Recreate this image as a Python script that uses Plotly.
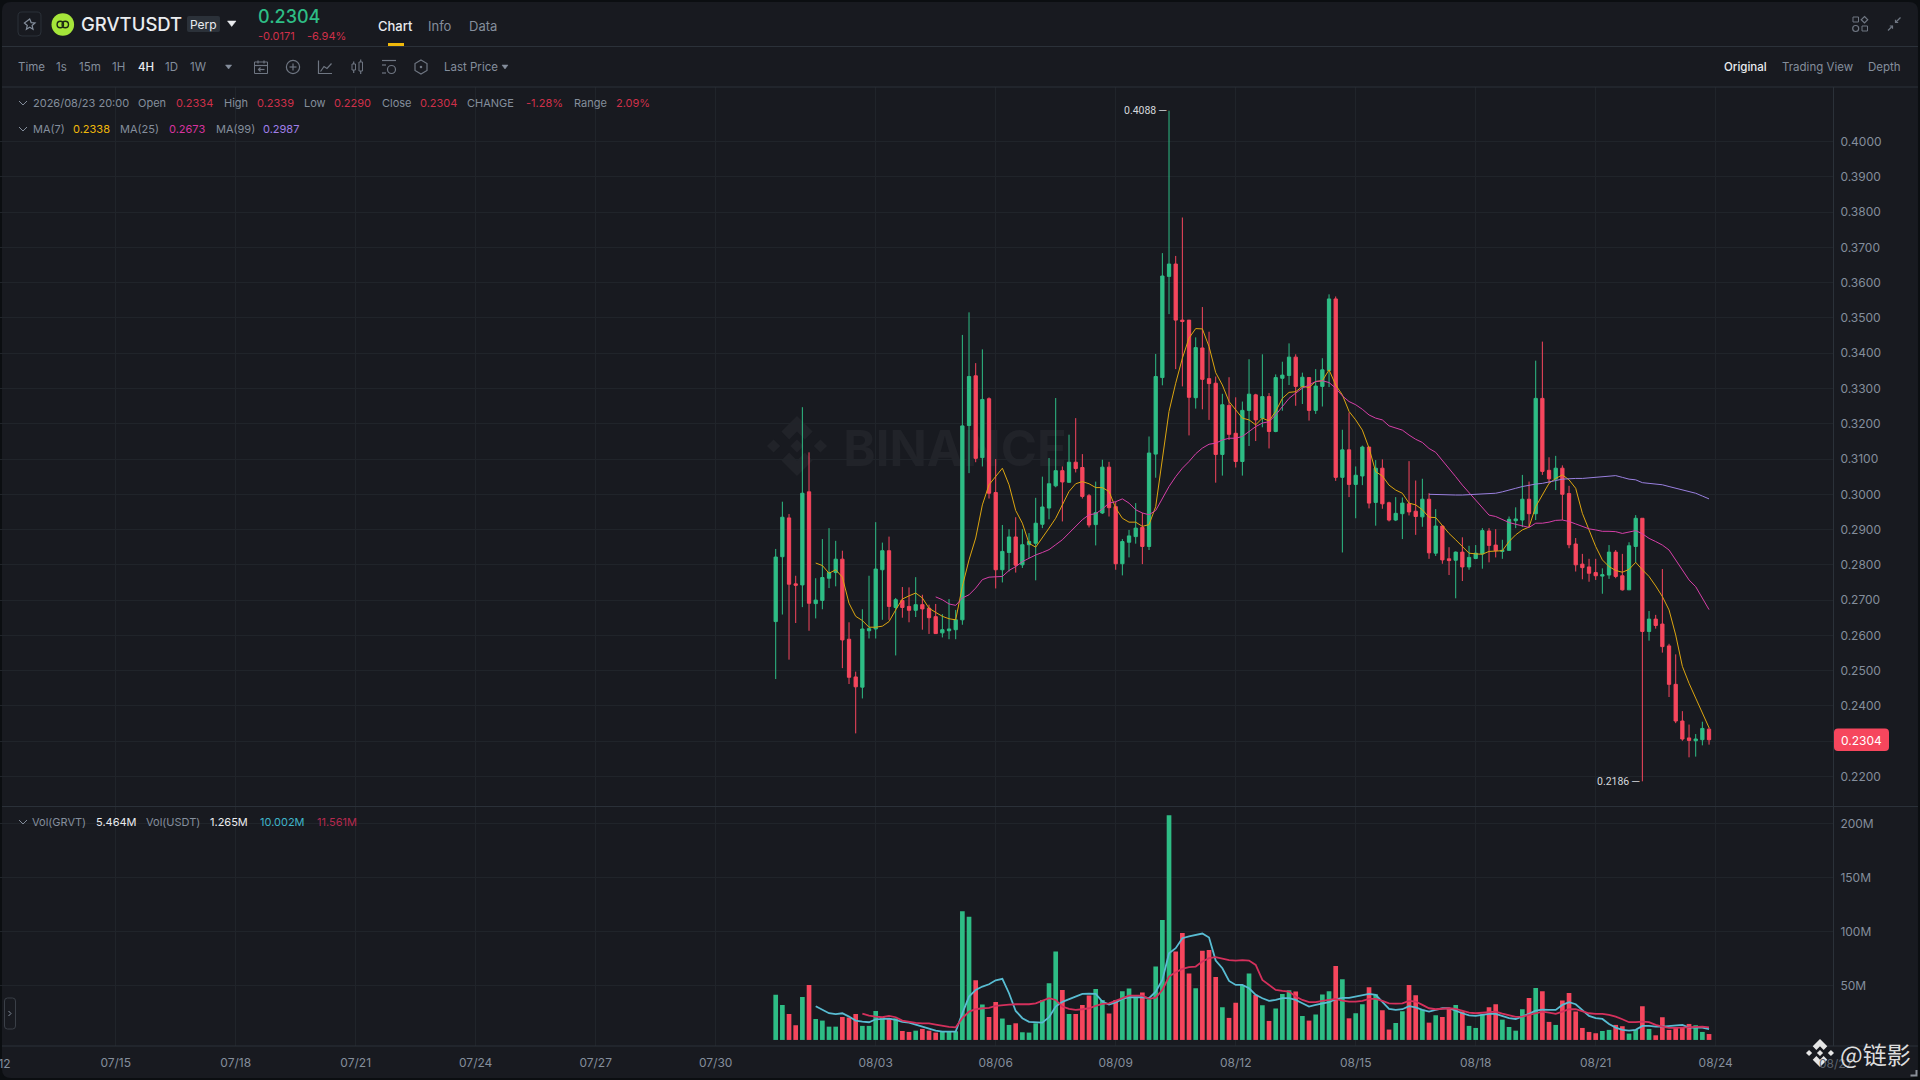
# GRVTUSDT 4H perp chart, candles + MA lines + volume pane

import pandas as pd
import plotly.graph_objects as go
from plotly.subplots import make_subplots

# Candles (4h bars from 07/31 12:00)
opens = [.2639,.2823,.2933,.2746,.2743,.3007,.2690,.2699,.2762,.2778,.2816,.2589,.2482,.2453,.2613,.2618,.2786,.2840,.2679,.2699,
         .2682,.2671,.2687,.2677,.2653,.2607,.2613,.2616,.2644,.3195,.3336,.3104,.3271,.3005,.2786,.2835,.2879,.2800,.2857,.2861,
         .2915,.2961,.3024,.3067,.3034,.3091,.3076,.2996,.2914,.2947,.3077,.2965,.2803,.2864,.2880,.2906,.2852,.3114,.3331,.3618,
         .3653,.3494,.3494,.3274,.3415,.3328,.3315,.3113,.3252,.3173,.3093,.3238,.3282,.3216,.3277,.3178,.3329,.3337,.3389,.3306,
         .3331,.3238,.3306,.3351,.3554,.3048,.3126,.3028,.3052,.3134,.2977,.3074,.2976,.2927,.2945,.2973,.2952,.2936,.2986,.2833,
         .2910,.2817,.2813,.2836,.2794,.2818,.2831,.2896,.2856,.2838,.2841,.2925,.2927,.2986,.2945,.3272,.3068,.3043,.3074,.3002,
         .2859,.2802,.2794,.2778,.2768,.2771,.2836,.2769,.2729,.2852,.2932,.2611,.2646,.2632,.2570,.2461,.2357,.2309,.2301,.2304,.2334]
highs = [.2845,.2979,.2944,.2769,.3247,.3119,.2762,.2873,.2904,.2868,.2840,.2637,.2497,.2674,.2769,.2921,.2863,.2880,.2706,.2737,
         .2736,.2765,.2715,.2687,.2689,.2660,.2703,.2672,.3452,.3516,.3372,.3411,.3275,.3100,.2913,.2901,.2935,.2901,.2890,.2990,
         .3050,.3103,.3273,.3079,.3169,.3216,.3114,.3001,.3036,.3098,.3092,.2979,.2873,.2899,.2975,.2947,.3164,.3398,.3684,.4088,
         .3676,.3785,.3494,.3445,.3531,.3461,.3334,.3285,.3332,.3275,.3263,.3383,.3285,.3397,.3287,.3340,.3376,.3428,.3397,.3345,
         .3331,.3355,.3386,.3567,.3561,.3183,.3232,.3079,.3138,.3134,.3097,.3099,.2979,.2992,.2991,.3094,.3039,.3044,.3003,.2958,
         .2910,.2850,.2838,.2878,.2854,.2856,.2904,.2904,.2901,.2871,.2937,.2963,.3055,.3036,.3379,.3433,.3105,.3109,.3082,.3024,
         .2876,.2831,.2817,.2817,.2790,.2856,.2842,.2831,.2864,.2941,.2932,.2669,.2658,.2788,.2576,.2546,.2385,.2347,.2320,.2355,.2339]
lows = [.2476,.2659,.2531,.2635,.2680,.2613,.2648,.2674,.2734,.2739,.2507,.2462,.2322,.2421,.2591,.2591,.2644,.2644,.2543,.2650,
        .2637,.2652,.2616,.2604,.2604,.2594,.2589,.2589,.2630,.3060,.3091,.3079,.2988,.2733,.2750,.2781,.2778,.2791,.2819,.2756,
        .2904,.2929,.3020,.2923,.3032,.3062,.2988,.2906,.2855,.2944,.2937,.2786,.2770,.2821,.2860,.2802,.2842,.3047,.3309,.3511,
        .3355,.3306,.3167,.3243,.3241,.3211,.3033,.3053,.3154,.3076,.3053,.3137,.3151,.3190,.3130,.3176,.3237,.3310,.3251,.3256,
        .3209,.3228,.3249,.3304,.3038,.2835,.2992,.2932,.3026,.2960,.2911,.2959,.2923,.2924,.2873,.2940,.2885,.2908,.2817,.2825,
        .2803,.2771,.2705,.2754,.2786,.2816,.2789,.2807,.2821,.2817,.2841,.2904,.2907,.2907,.2927,.3055,.3031,.3012,.2927,.2847,
        .2781,.2759,.2752,.2757,.2718,.2760,.2762,.2727,.2729,.2806,.2186,.2585,.2619,.2551,.2425,.2351,.2301,.2254,.2256,.2288,.2290]
closes = [.2822,.2935,.2745,.2742,.3003,.2691,.2700,.2764,.2778,.2816,.2587,.2481,.2454,.2618,.2619,.2788,.2840,.2682,.2701,.2679,
          .2671,.2687,.2675,.2650,.2605,.2616,.2618,.2644,.3194,.3334,.3102,.3269,.3003,.2786,.2838,.2879,.2799,.2857,.2866,.2918,
          .2964,.3030,.3067,.3035,.3091,.3073,.2994,.2913,.2948,.3077,.2962,.2803,.2866,.2882,.2904,.2852,.3117,.3334,.3619,.3653,
          .3494,.3490,.3275,.3416,.3326,.3314,.3113,.3254,.3170,.3093,.3238,.3284,.3211,.3277,.3178,.3331,.3338,.3389,.3306,.3332,
          .3238,.3307,.3353,.3554,.3048,.3126,.3028,.3054,.3134,.2975,.3074,.2973,.2927,.2946,.2975,.2950,.2937,.2986,.2834,.2910,
          .2814,.2812,.2836,.2794,.2821,.2833,.2897,.2855,.2840,.2841,.2929,.2930,.2986,.2945,.3272,.3065,.3044,.3074,.3000,.2857,
          .2800,.2792,.2776,.2769,.2772,.2836,.2767,.2729,.2854,.2932,.2611,.2646,.2628,.2568,.2461,.2357,.2306,.2302,.2306,.2336,.2304]

# Price MAs: the first value of each one sits on bar 6 / 24 / 98
ma7 = [.2805,.2798,.2776,.2786,.2765,.2691,.2654,.2642,.2623,.2623,.2626,.2639,.2672,.2703,.2712,.2720,.2706,.2677,.2665,.2654,
       .2647,.2644,.2739,.2814,.2876,.2970,.3027,.3050,.3074,.3027,.2954,.2918,.2861,.2850,.2876,.2904,.2932,.2970,.3008,.3030,
       .3036,.3030,.3019,.3019,.3008,.2961,.2932,.2921,.2921,.2909,.2914,.2965,.3107,.3235,.3315,.3386,.3443,.3470,.3469,.3419,
       .3345,.3310,.3263,.3239,.3216,.3211,.3197,.3216,.3208,.3235,.3272,.3289,.3291,.3306,.3303,.3320,.3322,.3353,.3310,.3282,
       .3235,.3211,.3182,.3131,.3064,.3052,.3026,.3012,.3003,.2975,.2970,.2956,.2935,.2934,.2910,.2889,.2871,.2852,.2833,.2831,
       .2830,.2838,.2840,.2840,.2866,.2885,.2899,.2907,.2965,.2998,.3031,.3045,.3055,.3041,.3017,.2946,.2899,.2852,.2814,.2795,
       .2784,.2779,.2787,.2807,.2786,.2767,.2740,.2710,.2672,.2601,.2512,.2464,.2422,.2379,.2338]
ma25 = [.2709,.2701,.2689,.2685,.2706,.2715,.2734,.2758,.2765,.2766,.2767,.2784,.2795,.2809,.2819,.2828,.2835,.2843,.2857,.2871,
        .2890,.2909,.2928,.2942,.2945,.2958,.2975,.2979,.2987,.2975,.2956,.2947,.2942,.2954,.2989,.3022,.3050,.3074,.3093,.3115,
        .3131,.3142,.3145,.3154,.3159,.3159,.3164,.3178,.3192,.3202,.3206,.3225,.3249,.3272,.3287,.3301,.3310,.3320,.3322,.3317,
        .3301,.3279,.3263,.3254,.3241,.3225,.3216,.3211,.3194,.3187,.3182,.3168,.3156,.3147,.3130,.3119,.3097,.3074,.3050,.3026,
        .3005,.2984,.2965,.2941,.2937,.2928,.2920,.2915,.2910,.2906,.2918,.2918,.2921,.2926,.2927,.2923,.2916,.2908,.2902,.2899,
        .2895,.2895,.2894,.2889,.2892,.2897,.2888,.2875,.2866,.2856,.2842,.2814,.2786,.2757,.2738,.2705,.2673]
ma99 = [.3000,.2999,.2999,.2999,.2998,.2998,.2999,.3001,.3002,.3003,.3003,.3007,.3011,.3017,.3022,.3026,.3029,.3031,.3034,.3039,
        .3043,.3045,.3045,.3045,.3047,.3048,.3050,.3052,.3053,.3048,.3043,.3041,.3033,.3031,.3029,.3027,.3022,.3017,.3012,.3007,
        .3003,.2995,.2987]

# Volume in millions, and its two averages (first value on bar 6 / 13)
volumes = [41.7,32.4,24.1,13.6,39.8,50.9,19.4,17.9,12.3,12.3,21.3,20.7,24.1,13.0,13.0,26.8,21.0,20.0,20.0,8.3,
           7.4,8.6,10.2,8.6,6.8,7.4,7.4,8.0,119.0,113.9,55.2,32.7,21.3,35.2,19.8,13.9,15.4,7.1,6.8,15.4,
           37.0,52.5,81.8,46.3,24.1,24.1,32.4,41.0,47.2,37.0,24.4,37.0,45.0,47.5,40.0,43.8,37.6,67.9,111.0,207.7,
           81.8,98.8,61.4,47.8,82.4,83.3,58.3,30.2,20.4,34.3,50.9,61.4,41.7,32.1,17.6,29.0,42.6,46.0,44.7,22.2,
           17.9,23.5,42.0,45.0,68.5,56.2,20.0,24.7,33.0,48.8,42.3,27.5,9.6,15.7,26.5,50.9,41.4,28.0,16.0,22.8,
           21.3,29.0,32.4,26.2,13.0,11.1,23.8,30.2,33.0,18.8,12.0,8.6,28.4,38.9,48.1,45.0,16.7,13.9,36.4,43.5,
           26.2,11.1,7.4,6.2,8.3,9.3,13.9,12.7,5.9,9.3,31.2,10.2,4.3,21.0,9.3,11.1,11.7,14.8,13.6,7.4,5.464]
vol_ma_a = [31.2,27.8,24.7,23.8,24.7,21.6,17.9,17.0,16.4,19.1,19.8,19.8,18.5,16.7,16.0,14.5,12.3,10.5,8.6,7.7,
            7.7,7.7,24.7,40.1,46.3,49.4,51.5,55.2,56.5,43.2,26.8,20.1,16.7,16.0,16.0,21.0,30.9,35.2,37.6,40.1,
            42.6,42.9,42.6,35.5,32.7,34.6,38.0,39.5,39.5,39.5,38.6,44.7,55.5,80.2,84.9,94.1,95.7,96.9,98.4,94.7,
            73.4,66.3,54.6,50.9,50.9,47.8,41.7,
            38.6,36.1,37.0,38.6,38.6,37.0,33.9,30.9,32.4,33.9,34.9,37.6,38.9,38.9,40.1,41.7,42.6,41.7,35.5,28.7,
            27.8,28.4,31.2,30.2,27.8,26.2,27.8,29.3,29.3,26.8,24.7,22.8,22.2,23.1,24.1,24.1,22.2,20.1,19.4,21.6,
            24.1,27.2,28.1,27.8,27.8,32.4,34.9,33.0,27.8,22.2,20.1,19.4,14.8,11.4,9.3,8.6,9.3,13.0,13.0,12.3,
            12.3,13.0,13.6,13.9,11.4,11.4,11.4,10.002]
vol_ma_b = [24.4,22.5,21.6,21.0,22.2,21.0,17.9,16.7,15.7,15.4,15.4,14.2,13.0,12.0,11.7,20.1,26.2,28.4,29.3,29.6,
            31.5,32.4,32.7,33.0,33.0,33.0,33.9,36.4,38.6,37.0,30.9,28.7,27.8,28.4,29.3,31.5,33.3,33.9,36.1,38.6,
            41.0,41.0,41.0,38.0,39.2,46.3,58.6,62.6,65.7,67.3,67.9,72.5,75.6,76.5,75.3,73.8,73.4,73.8,73.4,69.4,
            55.5,50.9,46.3,45.4,44.7,40.1,37.0,34.9,34.9,36.1,37.0,38.0,36.4,35.5,35.5,36.1,38.0,38.0,36.1,33.9,
            33.6,33.9,36.1,35.5,32.4,29.3,28.4,29.0,29.3,28.7,27.2,25.3,24.7,25.3,25.9,26.2,24.4,22.5,21.3,21.6,
            23.1,25.3,26.2,25.3,24.1,26.2,28.4,28.4,26.8,24.7,24.1,24.1,23.1,21.6,19.1,16.4,16.4,17.0,16.4,13.9,
            12.3,11.1,11.1,11.4,11.7,12.0,12.3,11.561]

tick_dates = ["2026-07-15", "2026-07-18", "2026-07-21", "2026-07-24", "2026-07-27", "2026-07-30", "2026-08-03",
              "2026-08-06", "2026-08-09", "2026-08-12", "2026-08-15", "2026-08-18", "2026-08-21", "2026-08-24"]
tick_labels = ["07/15", "07/18", "07/21", "07/24", "07/27", "07/30", "08/03",
               "08/06", "08/09", "08/12", "08/15", "08/18", "08/21", "08/24"]
price_ticks = [.22, .23, .24, .25, .26, .27, .28, .29, .30, .31, .32, .33, .34, .35, .36, .37, .38, .39, .40]
vol_ticks = [50, 100, 150, 200]
vol_tick_labels = ["50M", "100M", "150M", "200M"]

for series in (highs, lows, closes, volumes):
    assert len(series) == len(opens), len(series)
assert len(ma7) == 135 and len(ma25) == 117 and len(ma99) == 43, (len(ma7), len(ma25), len(ma99))
assert len(vol_ma_a) == 135 and len(vol_ma_b) == 128, (len(vol_ma_a), len(vol_ma_b))

dates = pd.date_range("2026-07-31 12:00", periods=len(opens), freq="4h")

UP = "#2ebd85"
DOWN = "#f6465d"
DOWN_DIM = "#cf304a"
GREY = "#848e9c"
ICON = "#6f7682"
GRID = "#20242a"
LINE = "#2b3139"
W, H = 1920, 1080

fig = make_subplots(rows=2, cols=1, shared_xaxes=True, vertical_spacing=0)

fig.add_trace(go.Candlestick(
    x=dates, open=opens, high=highs, low=lows, close=closes,
    increasing=dict(line=dict(color=UP, width=1), fillcolor=UP),
    decreasing=dict(line=dict(color=DOWN, width=1), fillcolor=DOWN),
    whiskerwidth=0,
), row=1, col=1)
fig.add_trace(go.Scatter(x=dates[6:], y=ma7, mode="lines", line=dict(color="#dca510", width=1)), row=1, col=1)
fig.add_trace(go.Scatter(x=dates[24:], y=ma25, mode="lines", line=dict(color="#d63fa8", width=1)), row=1, col=1)
fig.add_trace(go.Scatter(x=dates[98:], y=ma99, mode="lines", line=dict(color="#9a80e0", width=1)), row=1, col=1)

bar_colors = [UP if c >= o else DOWN for o, c in zip(opens, closes)]
fig.add_trace(go.Bar(x=dates, y=volumes, marker=dict(color=bar_colors, line_width=0)), row=2, col=1)
fig.add_trace(go.Scatter(x=dates[6:], y=vol_ma_a, mode="lines", line=dict(color="#58bcd2", width=1.8)), row=2, col=1)
fig.add_trace(go.Scatter(x=dates[13:], y=vol_ma_b, mode="lines", line=dict(color="#d4305c", width=1.8)), row=2, col=1)


# everything outside the plot is placed in screen pixels
def px(x):
    return x / W


def py(y):
    return 1 - y / H


annotations = []
shapes = []


def label(x, y, text, color=GREY, size=12, anchor="left", weight=None):
    # left anchored annotations land about 2px too far right
    x_pos = x - 2 if anchor == "left" else x
    annotations.append(dict(xref="paper", yref="paper", x=px(x_pos), y=py(y), text=text, showarrow=False,
                            xanchor=anchor, yanchor="middle", borderpad=0,
                            font=dict(family="Inter", size=size, color=color, weight=weight)))


def poly(points, color=ICON, width=1.2, fill=None, close=False, layer="above"):
    d = "M" + " L".join(f"{px(x):.6f},{py(y):.6f}" for x, y in points) + (" Z" if close else "")
    shapes.append(dict(type="path", xref="paper", yref="paper", path=d, layer=layer,
                       line=dict(color=color, width=width), fillcolor=fill or "rgba(0,0,0,0)"))


def rect(x0, y0, x1, y1, color=None, fill=None, radius=0, width=1, layer="above"):
    r = radius
    rx, ry = r / W, r / H
    a, b, c, d = px(x0), px(x1), py(y0), py(y1)
    path = (f"M{a + rx:.6f},{c:.6f} L{b - rx:.6f},{c:.6f} Q{b:.6f},{c:.6f} {b:.6f},{c - ry:.6f} "
            f"L{b:.6f},{d + ry:.6f} Q{b:.6f},{d:.6f} {b - rx:.6f},{d:.6f} "
            f"L{a + rx:.6f},{d:.6f} Q{a:.6f},{d:.6f} {a:.6f},{d + ry:.6f} "
            f"L{a:.6f},{c - ry:.6f} Q{a:.6f},{c:.6f} {a + rx:.6f},{c:.6f} Z")
    shapes.append(dict(type="path", xref="paper", yref="paper", path=path, layer=layer,
                       line=dict(color=color or "rgba(0,0,0,0)", width=width if color else 0),
                       fillcolor=fill or "rgba(0,0,0,0)"))


def circle(cx, cy, r, color=ICON, fill=None, width=1.2, layer="above"):
    shapes.append(dict(type="circle", xref="paper", yref="paper", layer=layer,
                       x0=px(cx - r), x1=px(cx + r), y0=py(cy + r), y1=py(cy - r),
                       line=dict(color=color or "rgba(0,0,0,0)", width=width if color else 0),
                       fillcolor=fill or "rgba(0,0,0,0)"))


def binance_logo(cx, cy, s, fill, layer):
    # four corners + centre diamond of the logo
    for dx in (-.78, 0, .78):
        h = .22
        poly([(cx + (dx - h) * s, cy), (cx + dx * s, cy - h * s), (cx + (dx + h) * s, cy), (cx + dx * s, cy + h * s)],
             color=None, width=0, fill=fill, close=True, layer=layer)
    for sign in (-1, 1):
        poly([(cx, cy + sign * s), (cx + .52 * s, cy + sign * .48 * s), (cx + .26 * s, cy + sign * .22 * s),
              (cx, cy + sign * .48 * s), (cx - .26 * s, cy + sign * .22 * s), (cx - .52 * s, cy + sign * .48 * s)],
             color=None, width=0, fill=fill, close=True, layer=layer)


# panel with round corners, sits under the grid
rect(2, 2, 1918, 1078, fill="#181a20", radius=9, layer="below")

# faint watermark in the chart
binance_logo(797, 446, 30, "#212329", "below")
shapes.append(dict(type="rect", xref="paper", yref="paper", layer="below", x0=px(838), x1=px(1072), y0=py(470), y1=py(422),
                   line=dict(width=0), fillcolor="rgba(0,0,0,0)",
                   label=dict(text="BINANCE", textposition="middle center",
                              font=dict(family="Inter", size=49, color="#212329", weight=700))))

# dividers
for y, x1 in ((46.5, 1918), (87, 1918), (806.5, 1918), (1046, 1918)):
    poly([(2, y), (x1, y)], color=LINE, width=1)

# header row
rect(18, 12, 41, 36, color="#2b3139", radius=4)
poly([(29.7, 19), (31.2, 22.6), (35, 23), (32.1, 25.5), (33, 29.2), (29.7, 27.3), (26.4, 29.2), (27.3, 25.5), (24.4, 23)],
     color="#848e9c", width=1.2, close=True)
circle(62.8, 24.5, 11.3, color=None, fill="#a5e53a")
circle(60.3, 24.5, 3.2, color="#1c2a12", width=1.4)
circle(65.3, 24.5, 3.2, color="#1c2a12", width=1.4)
label(82, 24.5, "GRVTUSDT", "#eaecef", 18.5, weight=500)
rect(187, 16, 220, 32, fill="#2b3139", radius=2)
label(203.5, 24, "Perp", "#eaecef", 12, anchor="center")
poly([(227.5, 21), (236, 21), (231.7, 26.5)], color="#eaecef", width=0.5, fill="#eaecef", close=True)
label(258.5, 17, "0.2304", UP, 18, weight=500)
label(258.5, 36, "-0.0171", DOWN_DIM, 11)
label(308, 36, "-6.94%", DOWN_DIM, 11)
label(379, 26.5, "Chart", "#eaecef", 13, weight=500)
rect(388, 43, 404, 46, fill="#f0b90b")
label(429, 26.5, "Info", GREY, 13)
label(470, 26.5, "Data", GREY, 13)

# top right icons
rect(1853, 17, 1858.5, 22, color=ICON)
poly([(1864.5, 16.5), (1867.7, 19.7), (1864.5, 23), (1861.2, 19.7)], color=ICON, close=True)
circle(1855.7, 28.5, 3, color=ICON)
rect(1862, 26, 1867.5, 31, color=ICON)
poly([(1888, 30.5), (1892.5, 26)], color=ICON)
poly([(1892.5, 28.7), (1892.5, 26), (1889.8, 26)], color=ICON)
poly([(1895.5, 22.5), (1900.5, 17.5)], color=ICON)
poly([(1895.5, 19.8), (1895.5, 22.5), (1898.2, 22.5)], color=ICON)

# toolbar row
for x, text, col in ((19, "Time", GREY), (56.7, "1s", GREY), (79.5, "15m", GREY), (113.4, "1H", GREY),
                     (138.8, "4H", "#eaecef"), (165.6, "1D", GREY), (191, "1W", GREY), (445, "Last Price", GREY)):
    label(x, 67, text, col, 11.5, weight=500 if text == "4H" else None)
poly([(225.5, 65), (231.7, 65), (228.6, 69)], color=GREY, width=0.5, fill=GREY, close=True)
poly([(502, 65), (508, 65), (505, 69)], color=GREY, width=0.5, fill=GREY, close=True)
rect(254.5, 62, 267.5, 73.5, color=ICON)
poly([(254.5, 65.5), (267.5, 65.5)])
poly([(258, 60.5), (258, 63.5)])
poly([(264, 60.5), (264, 63.5)])
poly([(264.5, 69.5), (258.5, 69.5)])
poly([(260.5, 67.5), (258.5, 69.5), (260.5, 71.5)])
circle(293, 67, 6.6)
poly([(293, 63.5), (293, 70.5)])
poly([(289.5, 67), (296.5, 67)])
poly([(318.5, 60.5), (318.5, 73.5), (332, 73.5)])
poly([(320.5, 71.5), (324, 66.5), (327, 68.5), (331.5, 63.5)])
rect(352, 64, 355.5, 70, color=ICON)
rect(359, 62, 362.5, 71, color=ICON)
poly([(353.7, 61.5), (353.7, 64)])
poly([(353.7, 70), (353.7, 73)])
poly([(360.7, 59.5), (360.7, 62)])
poly([(360.7, 71), (360.7, 74)])
poly([(382, 60.5), (396, 60.5)])
poly([(382, 65), (386, 65)])
poly([(382, 73), (386, 73)])
circle(391.5, 69.5, 4)
poly([(421, 60), (427, 63.5), (427, 70.5), (421, 74), (415, 70.5), (415, 63.5)], close=True)
circle(421, 67, 1.3, color=None, fill=ICON)

label(1725, 67, "Original", "#eaecef", 11.5, weight=500)
label(1783, 67, "Trading View", GREY, 11.5)
label(1869, 67, "Depth", GREY, 11.5)

# legend rows
def chevron(x, y):
    poly([(x - 4, y - 2), (x, y + 2), (x + 4, y - 2)], color=GREY, width=1)


chevron(23, 103)
for x, text, col in ((33.5, "2026/08/23 20:00", GREY), (139, "Open", GREY), (177, "0.2334", DOWN_DIM), (224.5, "High", GREY),
                     (258, "0.2339", DOWN_DIM), (305, "Low", GREY), (335, "0.2290", DOWN_DIM), (382.6, "Close", GREY),
                     (421, "0.2304", DOWN_DIM), (468, "CHANGE", GREY), (527, "-1.28%", DOWN_DIM), (574.5, "Range", GREY),
                     (617, "2.09%", DOWN_DIM)):
    label(x, 103, text, col, 11)
chevron(23, 129)
for x, text, col in ((33.5, "MA(7)", GREY), (74, "0.2338", "#f0b90b"), (121.4, "MA(25)", GREY), (170, "0.2673", "#d6339f"),
                     (216.5, "MA(99)", GREY), (264, "0.2987", "#a07fe8")):
    label(x, 129, text, col, 11)
chevron(23, 822)
for x, text, col in ((33, "Vol(GRVT)", GREY), (97, "5.464M", "#eaecef"), (147, "Vol(USDT)", GREY), (211, "1.265M", "#eaecef"),
                     (261, "10.002M", "#3fb4c9"), (318, "11.561M", "#b5294e")):
    label(x, 822, text, col, 11)

# collapsed side handle
rect(4.5, 998, 15.5, 1029, color="#3a3f47", radius=3)
poly([(8.5, 1011), (11, 1013.5), (8.5, 1016)], color=GREY, width=1)

# last price tag
rect(1834, 728.5, 1889, 751, fill=DOWN, radius=4)
label(1861.5, 740, "0.2304", "#ffffff", 12, anchor="center")

# extreme labels on the candles
annotations.append(dict(x=dates[highs.index(max(highs))], y=max(highs), xref="x", yref="y", text="0.4088 ─", showarrow=False,
                        xanchor="right", yanchor="middle", font=dict(family="Roboto", size=10.5, color="#d5d8dc")))
annotations.append(dict(x=dates[lows.index(min(lows))], y=min(lows), xref="x", yref="y", text="0.2186 ─", showarrow=False,
                        xanchor="right", yanchor="middle", font=dict(family="Roboto", size=10.5, color="#d5d8dc")))

# labels outside the axis range, cut by the window / behind the stamp
label(-4.3, 1063, "07/12", GREY, 12, anchor="center")
label(1835.7, 1063, "08/27", "#5c636e", 12, anchor="center")

# stamp in the corner
binance_logo(1820, 1053, 14, "#e6e6e6", "above")
annotations.append(dict(xref="paper", yref="paper", x=px(1839), y=py(1053), text="@链影", showarrow=False,
                        xanchor="left", yanchor="middle", borderpad=0,
                        font=dict(family="Noto Sans CJK SC", size=24, color="#dcdcdc")))
poly([(1910.5, 1075.5), (1916.5, 1075.5), (1916.5, 1070)], color="#8a8f98", width=2)

x_start = pd.Timestamp("2026-08-03") - pd.Timedelta(hours=875.7 / 6.6667 * 4)
x_end = pd.Timestamp("2026-08-03") + pd.Timedelta(hours=(1833 - 875.7) / 6.6667 * 4)
axis_x = dict(domain=[0, px(1833)], range=[x_start, x_end], rangeslider_visible=False, showgrid=True, gridcolor=GRID, gridwidth=1,
              tickmode="array", tickvals=tick_dates, ticktext=tick_labels, ticks="", zeroline=False, showline=False,
              ticklabelstandoff=8, tickfont=dict(family="Inter", size=12, color=GREY))

fig.update_layout(
    width=W, height=H, margin=dict(l=0, r=0, t=0, b=0),
    paper_bgcolor="#0b0e11", plot_bgcolor="rgba(0,0,0,0)",
    showlegend=False, hovermode=False, bargap=0.3, boxgap=0.3,
    xaxis=axis_x,
    xaxis2=axis_x,
    yaxis=dict(domain=[py(806), py(87)], range=[.2116, .41551], side="right", tickmode="array", tickvals=price_ticks,
               tickformat=".4f", showgrid=True, gridcolor=GRID, zeroline=False, showline=True, linecolor=LINE,
               ticks="", ticklabelstandoff=4, tickfont=dict(family="Inter", size=12, color=GREY)),
    yaxis2=dict(domain=[py(1046), py(806.5)], range=[-5.6, 215.9], side="right", tickmode="array", tickvals=vol_ticks,
                ticktext=vol_tick_labels, showgrid=True, gridcolor=GRID, zeroline=False, showline=True, linecolor=LINE,
                ticks="", ticklabelstandoff=4, tickfont=dict(family="Inter", size=12, color=GREY)),
    annotations=annotations,
    shapes=shapes,
)
fig.update_xaxes(showticklabels=False, row=1, col=1)
fig.update_xaxes(showticklabels=True, row=2, col=1)

fig.write_html("out.html", config={"displayModeBar": False},
               post_script="document.body.style.margin='0';document.body.style.overflow='hidden';")
